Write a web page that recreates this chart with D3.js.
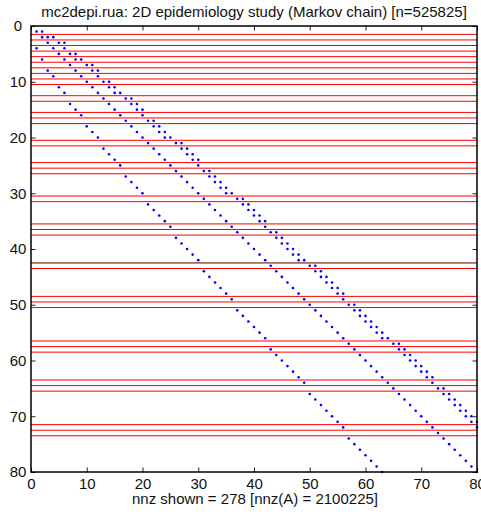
<!DOCTYPE html>
<html>
<head>
<meta charset="utf-8">
<script src="https://cdn.jsdelivr.net/npm/d3@7"></script>
<style>
  body { margin: 0; background: #fff; }
  svg text { font-family: "Liberation Sans", Arial, Helvetica, sans-serif; fill: #111; }
</style>
</head>
<body>
<svg id="chart" width="481" height="516"></svg>
<script>
// spy plot of the top-left 80x80 block: for each row (1..80) the columns holding a nonzero
const rowCols = [
  [1, 2], [2, 3, 4], [3, 5, 6], [1, 4, 6], [5, 7, 8],
  [2, 6, 8, 9], [7, 10, 11], [3, 8, 11, 12], [4, 9, 12], [10, 13, 14],
  [5, 11, 14, 15], [6, 12, 15, 16], [13, 17, 18], [7, 14, 18, 19], [8, 15, 19, 20],
  [9, 16, 20], [17, 21, 22], [10, 18, 22, 23], [11, 19, 23, 24], [12, 20, 24, 25],
  [21, 26, 27], [13, 22, 27, 28], [14, 23, 28, 29], [15, 24, 29, 30], [16, 25, 30],
  [26, 31, 32], [17, 27, 32, 33], [18, 28, 33, 34], [19, 29, 34, 35], [20, 30, 35, 36],
  [31, 37, 38], [21, 32, 38, 39], [22, 33, 39, 40], [23, 34, 40, 41], [24, 35, 41, 42],
  [25, 36, 42], [37, 43, 44], [26, 38, 44, 45], [27, 39, 45, 46], [28, 40, 46, 47],
  [29, 41, 47, 48], [30, 42, 48, 49], [43, 50, 51], [31, 44, 51, 52], [32, 45, 52, 53],
  [33, 46, 53, 54], [34, 47, 54, 55], [35, 48, 55, 56], [36, 49, 56], [50, 57, 58],
  [37, 51, 58, 59], [38, 52, 59, 60], [39, 53, 60, 61], [40, 54, 61, 62], [41, 55, 62, 63],
  [42, 56, 63, 64], [57, 65, 66], [43, 58, 66, 67], [44, 59, 67, 68], [45, 60, 68, 69],
  [46, 61, 69, 70], [47, 62, 70, 71], [48, 63, 71, 72], [49, 64, 72], [65, 73, 74],
  [50, 66, 74, 75], [51, 67, 75, 76], [52, 68, 76, 77], [53, 69, 77, 78], [54, 70, 78, 79],
  [55, 71, 79, 80], [56, 72, 80], [73], [57, 74], [58, 75],
  [59, 76], [60, 77], [61, 78], [62, 79], [63, 80]
];

// horizontal separators (row positions)
const redRows = [1.5, 2.5, 3.5, 4.5, 5.5, 6.5, 7.5, 8.5, 9.5, 10.5,
  12.5, 13.5, 15.5, 16.5, 17.5, 20.5, 21.5, 24.5, 25.5, 26.5,
  30.5, 31.5, 35.5, 36.5, 37.5, 43.5, 48.5, 49.5, 50.5,
  56.5, 57.5, 58.5, 63.5, 64.5, 65.5, 71.5, 72.5, 73.5];
const darkRows = [42.5];

const xTicks = [0, 10, 20, 30, 40, 50, 60, 70, 80];
const yTicks = [0, 10, 20, 30, 40, 50, 60, 70, 80];

const title = "mc2depi.rua: 2D epidemiology study (Markov chain) [n=525825]";
const xLabel = "nnz shown = 278 [nnz(A) = 2100225]";

const x = d3.scaleLinear().domain([0, 80]).range([31, 477]);
const y = d3.scaleLinear().domain([0, 80]).range([26, 472]);

const svg = d3.select("#chart");

// separator lines
svg.append("g").selectAll("line")
  .data(redRows)
  .join("line")
  .attr("x1", x(0)).attr("x2", x(80))
  .attr("y1", d => y(d)).attr("y2", d => y(d))
  .attr("stroke", "#ff0000")
  .attr("stroke-width", 1);

svg.append("g").selectAll("line")
  .data(darkRows)
  .join("line")
  .attr("x1", x(0)).attr("x2", x(80))
  .attr("y1", d => y(d)).attr("y2", d => y(d))
  .attr("stroke", "#500000")
  .attr("stroke-width", 1);

// nonzeros
const points = rowCols.flatMap((cols, i) => cols.map(c => ({ row: i + 1, col: c })));

svg.append("g").selectAll("circle")
  .data(points)
  .join("circle")
  .attr("cx", d => x(d.col))
  .attr("cy", d => y(d.row))
  .attr("r", 1.3)
  .attr("fill", "#0000ff");

// axes, ticks pointing inward
const xAxis = svg.append("g")
  .attr("transform", `translate(0,${y(80)})`)
  .call(d3.axisBottom(x).tickValues(xTicks).tickSize(-4.5).tickPadding(6.5));
xAxis.select(".domain").remove();

const yAxis = svg.append("g")
  .attr("transform", `translate(${x(0)},0)`)
  .call(d3.axisLeft(y).tickValues(yTicks).tickSize(-4.5).tickPadding(13));
yAxis.select(".domain").remove();
yAxis.selectAll("text").attr("text-anchor", "middle");

const topAxis = svg.append("g")
  .attr("transform", `translate(0,${y(0)})`)
  .call(d3.axisTop(x).tickValues(xTicks).tickSize(-4.5).tickFormat(""));
topAxis.select(".domain").remove();

const rightAxis = svg.append("g")
  .attr("transform", `translate(${x(80)},0)`)
  .call(d3.axisRight(y).tickValues(yTicks).tickSize(-4.5).tickFormat(""));
rightAxis.select(".domain").remove();

svg.selectAll(".tick text")
  .style("font-size", "15px")
  .attr("fill", "#111");
svg.selectAll(".tick line").attr("stroke", "#222");

// frame
svg.append("rect")
  .attr("x", x(0)).attr("y", y(0))
  .attr("width", x(80) - x(0)).attr("height", y(80) - y(0))
  .attr("fill", "none")
  .attr("stroke", "#000")
  .attr("stroke-width", 1.5);

svg.append("text")
  .attr("x", (x(0) + x(80)) / 2)
  .attr("y", 16.5)
  .attr("text-anchor", "middle")
  .style("font-size", "15px")
  .text(title);

svg.append("text")
  .attr("x", (x(0) + x(80)) / 2 + 1)
  .attr("y", 504)
  .attr("text-anchor", "middle")
  .style("font-size", "15px")
  .text(xLabel);
</script>
</body>
</html>
